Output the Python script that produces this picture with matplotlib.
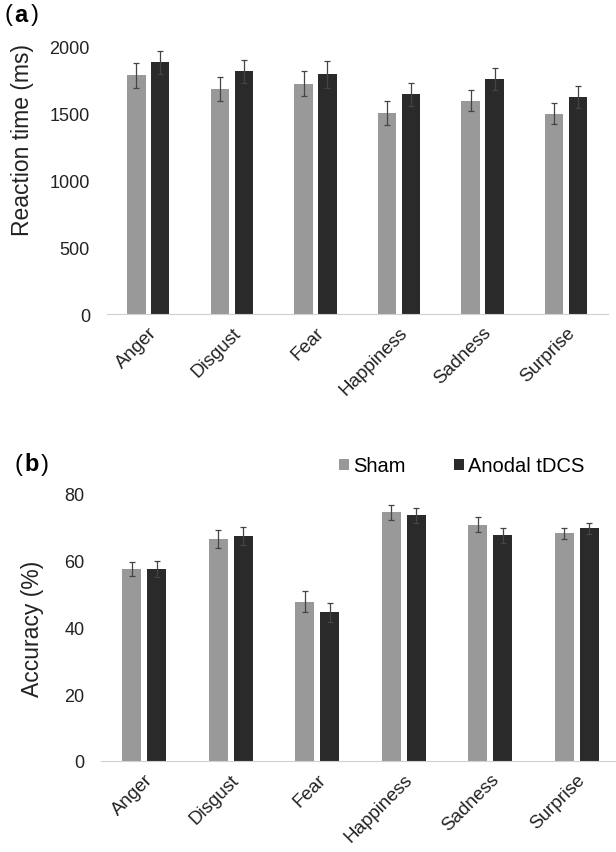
import matplotlib
matplotlib.use("Agg")
from matplotlib import pyplot as plt
import numpy as np

plt.rcParams['font.family'] = ['Liberation Sans', 'DejaVu Sans']

emotions = ["Anger", "Disgust", "Fear", "Happiness", "Sadness", "Surprise"]

# (a) reaction time, ms
rt_sham = [1780, 1678, 1718, 1500, 1590, 1495]
rt_sham_err = [95, 87, 94, 87, 78, 78]
rt_tdcs = [1877, 1810, 1788, 1640, 1752, 1620]
rt_tdcs_err = [89, 87, 101, 86, 83, 84]

# (b) accuracy, %
acc_sham = [57.5, 66.5, 47.7, 74.5, 70.8, 68.2]
acc_sham_err = [2.0, 2.7, 3.2, 2.2, 2.3, 1.6]
acc_tdcs = [57.4, 67.4, 44.5, 73.6, 67.6, 69.7]
acc_tdcs_err = [2.4, 2.8, 2.9, 2.3, 2.2, 1.6]

sham_col = "#999999"
tdcs_col = "#2a2a2a"
err_col = "#444444"

fig = plt.figure(figsize=(6.16, 8.53), dpi=100)
ax1 = fig.add_axes([0.173, 0.6307, 0.814, 0.3142])
ax2 = fig.add_axes([0.164, 0.1067, 0.8425, 0.313])

x = np.arange(len(emotions))
w = 0.22
off = 0.143


def draw(ax, sham, sham_err, tdcs, tdcs_err, ymax, step, label):
    ax.bar(x - off, sham, w, color=sham_col, label="Sham",
           yerr=sham_err, error_kw=dict(ecolor=err_col, elinewidth=0.9, capsize=2.5, capthick=0.9))
    ax.bar(x + off, tdcs, w, color=tdcs_col, label="Anodal tDCS",
           yerr=tdcs_err, error_kw=dict(ecolor=err_col, elinewidth=0.9, capsize=2.5, capthick=0.9))
    ax.set_xlim(-0.5, len(emotions) - 0.5)
    ax.set_ylim(0, ymax)
    ax.set_yticks(np.arange(0, ymax + 1, step))
    ax.set_xticks(x)
    ax.set_xticklabels(emotions, rotation=45, ha="right", rotation_mode="anchor", fontsize=13.5)
    for s in ["top", "right", "left"]:
        ax.spines[s].set_visible(False)
    ax.spines["bottom"].set_color("#d0d0d0")
    ax.tick_params(axis="both", length=0, colors="#222222")
    ax.tick_params(axis="y", pad=12, labelsize=13)
    ax.tick_params(axis="x", pad=7)
    ax.set_ylabel(label, fontsize=16.5, color="#222222")


draw(ax1, rt_sham, rt_sham_err, rt_tdcs, rt_tdcs_err, 2000, 500, "Reaction time (ms)")
draw(ax2, acc_sham, acc_sham_err, acc_tdcs, acc_tdcs_err, 80, 20, "Accuracy (%)")

ax1.yaxis.set_label_coords(-0.145, 0.653)
ax2.yaxis.set_label_coords(-0.11, 0.5)

fig.text(0.008, 0.982, "(", fontsize=17, va="center")
fig.text(0.023, 0.982, "a", fontsize=17, va="center", weight="bold")
fig.text(0.050, 0.982, ")", fontsize=17, va="center")
fig.text(0.024, 0.455, "(", fontsize=17, va="center")
fig.text(0.039, 0.455, "b", fontsize=17, va="center", weight="bold")
fig.text(0.066, 0.455, ")", fontsize=17, va="center")

ax2.legend(loc="center", bbox_to_anchor=(0.695, 1.105), ncol=2, frameon=False,
           fontsize=14.5, handlelength=0.5, handleheight=0.5, handletextpad=0.2,
           columnspacing=2.4)

fig.savefig("out.png", dpi=100)
